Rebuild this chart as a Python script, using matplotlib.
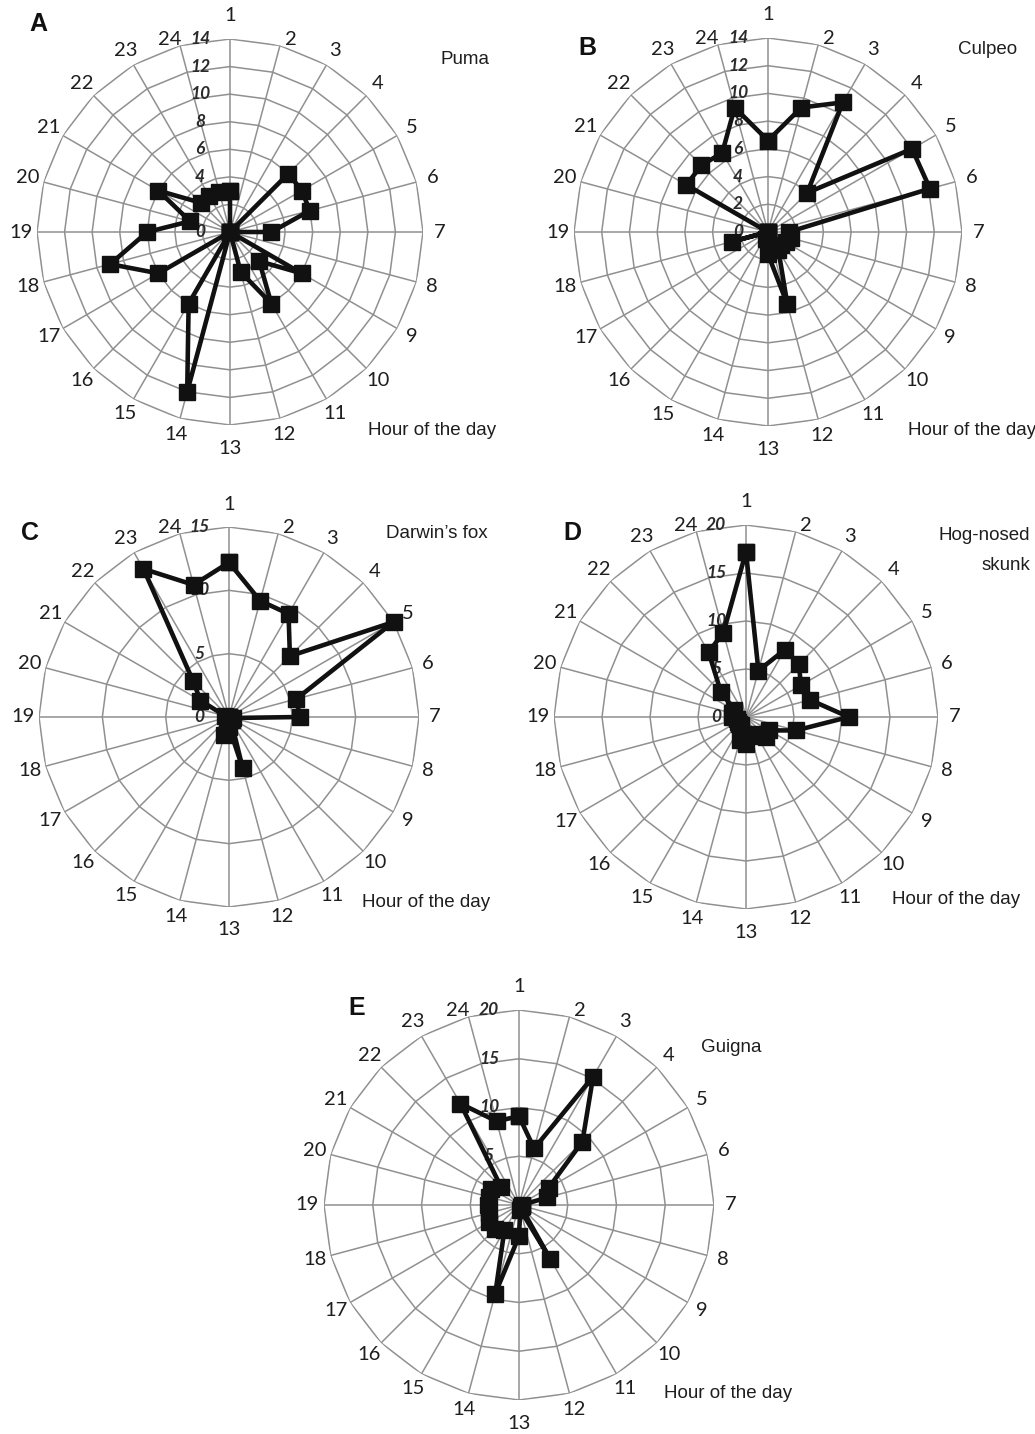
import matplotlib
matplotlib.use("Agg")
import matplotlib.pyplot as plt
import numpy as np

W, H = 1035, 1434

HOURS = list(range(1, 25))

# activity per hour (hour 1 .. hour 24)
puma = [3, 0, 0, 6, 6, 6, 3, 0, 6, 3, 6, 3, 0, 12, 6, 0, 6, 9, 6, 3, 6, 3, 3, 3]
culpeo = [6.6, 9.3, 10.8, 4.0, 12.0, 12.1, 1.5, 1.7, 1.5, 1.3, 1.5, 5.4,
          1.6, 0.5, 0, 0, 0, 2.7, 0, 0, 6.8, 6.8, 6.6, 9.3]
darwins_fox = [12.2, 9.5, 9.4, 6.8, 15.0, 5.5, 5.6, 0.3, 0.3, 0.3, 0.3, 4.2,
               0.8, 1.5, 0.3, 0, 0, 0, 0, 0.3, 2.6, 4.0, 13.5, 10.8]
skunk = [17.2, 5.0, 8.1, 7.8, 6.6, 6.9, 10.7, 5.4, 2.8, 3.0, 2.0, 2.0,
         2.8, 2.5, 1.0, 1.0, 1.0, 1.0, 1.5, 1.5, 1.4, 3.7, 7.8, 9.1]
guigna = [9.1, 6.0, 15.2, 9.2, 3.5, 3.0, 0.3, 0.3, 0.3, 0.3, 6.4, 0.5,
          3.2, 9.4, 3.0, 3.5, 3.5, 3.2, 3.2, 3.2, 3.3, 2.6, 12.0, 8.9]

GRID = "#909090"
HOUR_FONT = ["Lato", "DejaVu Sans"]
TEXT_FONT = ["Liberation Sans", "DejaVu Sans"]


def fx(x: float, y: float) -> tuple[float, float]:
    return x / W, 1 - y / H


def label_pos(h: int, t: float) -> tuple[float, float]:
    # Excel pushes the top/bottom labels out a bit and the two next to the top aside
    if h in (1, 13):
        return t, 1.12
    if h == 24:
        return t - np.deg2rad(2.5), 1.045
    if h == 2:
        return t + np.deg2rad(2.5), 1.045
    return t, 1.085


def draw_panel(fig, center, radius, rmax, step, values, letter, letter_xy,
               species, species_xy, hour_xy, species_ha="center"):
    cx, cy = center
    ax = fig.add_axes([(cx - radius) / W, (H - cy - radius) / H,
                       2 * radius / W, 2 * radius / H], projection="polar")
    ax.set_theta_zero_location("N")
    ax.set_theta_direction(-1)
    ax.set_ylim(0, rmax)
    ax.grid(False)
    ax.set_xticks([])
    ax.set_yticks([])
    ax.spines["polar"].set_visible(False)
    ax.patch.set_alpha(0)

    theta = np.deg2rad(np.arange(24) * 15.0)
    closed = np.append(theta, theta[0])
    for ring in np.arange(step, rmax + step / 2, step):
        ax.plot(closed, np.full(closed.size, ring), color=GRID, lw=1.1, zorder=1)
    for t in theta:
        ax.plot([t, t], [0, rmax], color=GRID, lw=1.1, zorder=1)

    for t, h in zip(theta, HOURS):
        lt, lr = label_pos(h, t)
        ax.text(lt, rmax * lr, str(h), ha="center", va="center",
                fontsize=14.5, family=HOUR_FONT, color="#1e1e1e", clip_on=False)

    for v in np.arange(0, rmax + step / 2, step):
        ax.annotate(f"{v:g}", xy=(0, v), xytext=(-30, 0), textcoords="offset pixels",
                    ha="center", va="center", fontsize=12.5, style="italic",
                    weight="bold", color="#2a2a2a", family=HOUR_FONT, zorder=2)

    vals = np.append(values, values[0])
    ax.plot(closed, vals, color="#111111", lw=3.3, marker="s", ms=11.5,
            clip_on=False, zorder=3)

    fig.text(*fx(*letter_xy), letter, fontsize=18, weight="bold", family=TEXT_FONT,
             ha="center", va="center", color="#111111")
    fig.text(*fx(*species_xy), species, fontsize=13.5, family=TEXT_FONT,
             ha=species_ha, va="center", linespacing=2.0, color="#1e1e1e")
    fig.text(*fx(*hour_xy), "Hour of the day", fontsize=13.5, family=TEXT_FONT,
             ha="center", va="center", color="#1e1e1e")
    return ax


fig = plt.figure(figsize=(W / 100, H / 100), dpi=100)

draw_panel(fig, (230, 232), 193, 14, 2, puma, "A", (38, 24),
           "Puma", (465, 60), (432, 430))
draw_panel(fig, (768, 232), 194, 14, 2, culpeo, "B", (587, 48),
           "Culpeo", (988, 50), (972, 430))
draw_panel(fig, (229, 717), 190, 15, 5, darwins_fox, "C", (30, 533),
           "Darwin\u2019s fox", (437, 534), (426, 903))
draw_panel(fig, (746, 717), 192, 20, 5, skunk, "D", (572, 533),
           "Hog-nosed\nskunk", (1030, 550), (956, 900), species_ha="right")
draw_panel(fig, (519, 1205), 195, 20, 5, guigna, "E", (357, 1008),
           "Guigna", (731, 1047), (728, 1393))

fig.savefig("out.png", dpi=100)
